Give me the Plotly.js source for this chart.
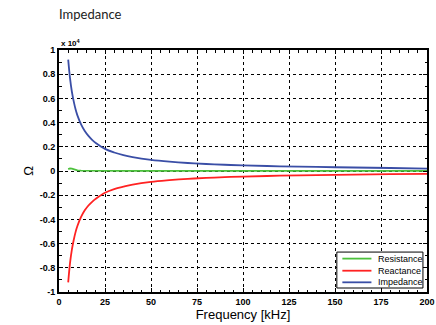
<!DOCTYPE html>
<html>
<head>
<meta charset="utf-8">
<script src="https://cdn.plot.ly/plotly-3.0.1.min.js"></script>
<style>html,body{margin:0;padding:0;background:#fff;}#chart{width:436px;height:325px;}</style>
</head>
<body>
<div id="chart"></div>
<script>
const freq = [5,6,7,8,9,10,12,14,16,18,20,25,30,35,40,50,60,70,80,90,100,120,140,160,180,200];
const resistance = [150,220,200,150,90,50,30,25,20,20,20,20,15,15,15,15,15,15,15,15,15,15,15,15,15,15];
const reactance = [-9200,-7600,-6500,-5700,-5050,-4550,-3800,-3250,-2850,-2550,-2300,-1800,-1500,-1300,-1130,-900,-760,-650,-570,-510,-460,-390,-340,-300,-265,-240];
const impedance = [9200,7650,6550,5750,5100,4600,3850,3300,2900,2580,2320,1830,1530,1310,1150,920,770,660,580,515,465,390,335,290,250,200];
const seriesNames = ['Resistance','Reactance','Impedance'];
const seriesColors = ['#4cc13c','#ff2222','#3a4ea6'];
const xTicks = [0,25,50,75,100,125,150,175,200];
const yTickVals = [-10000,-8000,-6000,-4000,-2000,0,2000,4000,6000,8000,10000];
const yTickText = ['-1','-0.8','-0.6','-0.4','-0.2','0','0.2','0.4','0.6','0.8','1'];

const seriesData = [resistance, reactance, impedance];
const traces = seriesData.map((ys, i) => ({
  x: freq, y: ys, name: seriesNames[i], mode: 'lines',
  line: {color: seriesColors[i], width: 1.8, shape: i === 0 ? 'linear' : 'spline'}
}));

const axisCommon = {
  showline: true, linecolor: '#000', linewidth: 2, mirror: 'allticks',
  ticks: 'inside', ticklen: 4, tickcolor: '#000', tickwidth: 1,
  showgrid: true, gridcolor: '#000', gridwidth: 1, griddash: 'dot',
  zeroline: false, automargin: false,
  tickfont: {family: 'Liberation Sans, Arial, sans-serif', size: 9, color: '#000', weight: 'bold'}
};

// custom compact legend (paper coords)
const legX0 = 0.755, legX1 = 0.989, legY0 = 0.0165, legY1 = 0.165;
const rowY = [0.138, 0.088, 0.040];
const lineX0 = 0.77, lineX1 = 0.849, textX = 0.862;
const shapes = [{type: 'rect', xref: 'paper', yref: 'paper', x0: legX0, x1: legX1, y0: legY0, y1: legY1,
  line: {color: '#000', width: 1}, fillcolor: '#fff', layer: 'above'}];
const annotations = [
  {text: 'Impedance', xref: 'paper', yref: 'paper', x: -0.005, y: 1, yshift: 36, xanchor: 'left', yanchor: 'middle', showarrow: false,
   font: {family: 'Lato, Open Sans, sans-serif', size: 13, color: '#222'}},
  {text: 'x 10<sup>4</sup>', xref: 'paper', yref: 'paper', x: 0, y: 1, yshift: 7, xanchor: 'left', yanchor: 'middle', showarrow: false,
   font: {family: 'Liberation Sans, Arial, sans-serif', size: 8, color: '#000', weight: 'bold'}}
];
seriesNames.forEach((n, i) => {
  shapes.push({type: 'line', xref: 'paper', yref: 'paper', x0: lineX0, x1: lineX1, y0: rowY[i], y1: rowY[i],
    line: {color: seriesColors[i], width: 1.8}, layer: 'above'});
  annotations.push({text: n, xref: 'paper', yref: 'paper', x: textX, y: rowY[i], xanchor: 'left', yanchor: 'middle',
    showarrow: false, font: {family: 'Liberation Sans, Arial, sans-serif', size: 9, color: '#000'}});
});

const layout = {
  width: 436, height: 325,
  margin: {l: 59, r: 9, t: 50, b: 33},
  paper_bgcolor: '#fff', plot_bgcolor: '#fff',
  showlegend: false,
  xaxis: Object.assign({}, axisCommon, {
    range: [0, 200], tickmode: 'array', tickvals: xTicks, ticktext: xTicks.map(String),
    minor: {dtick: 5, ticks: 'inside', ticklen: 2.5, tickcolor: '#000', showgrid: false},
    title: {text: 'Frequency [kHz]', font: {family: 'Liberation Sans, Arial, sans-serif', size: 13, color: '#000'}, standoff: 3}
  }),
  yaxis: Object.assign({}, axisCommon, {
    range: [-10000, 10000], tickmode: 'array', tickvals: yTickVals, ticktext: yTickText,
    minor: {dtick: 1000, ticks: 'inside', ticklen: 2.5, tickcolor: '#000', showgrid: false},
    title: {text: 'Ω', font: {family: 'Liberation Sans, Arial, sans-serif', size: 13, color: '#000'}, standoff: 3}
  }),
  shapes: shapes,
  annotations: annotations
};

Plotly.newPlot('chart', traces, layout, {displayModeBar: false, staticPlot: true});
</script>
</body>
</html>
